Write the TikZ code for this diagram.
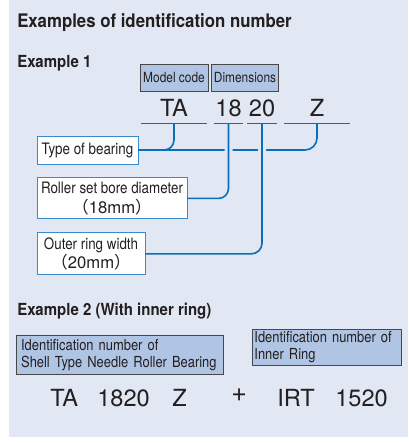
\documentclass[tikz,border=0pt]{standalone}
\usepackage{fontspec}
\setmainfont{TeX Gyre Heros}
\newfontfamily\headfont[FakeStretch=0.9]{TeX Gyre Heros}
\newfontfamily\condfont[FakeStretch=0.85]{TeX Gyre Heros}
\newfontfamily\cjkparen{Noto Sans CJK JP}
\newcommand{\sizetext}[1]{{\rmfamily\fontsize{12.5}{14.8}\selectfont{\cjkparen （}#1{\cjkparen ）}}}
\usetikzlibrary{positioning}
\usepackage{xcolor}
\definecolor{panel}{HTML}{E1E8F4}
\definecolor{linkblue}{HTML}{0B6EB9}
\definecolor{tagfill}{HTML}{B0C4E3}
\definecolor{tagdraw}{HTML}{474747}
\definecolor{boxdraw}{HTML}{3A8ACB}
\definecolor{ink}{HTML}{231F20}
\tikzstyle{heading} = [anchor=base west, inner sep=0pt, text=ink, font=\headfont\bfseries\fontsize{14}{16}\selectfont]
\tikzstyle{subheading} = [anchor=base west, inner sep=0pt, text=ink, font=\headfont\bfseries\fontsize{12.5}{15}\selectfont]
\tikzstyle{code} = [inner sep=0pt, text=ink, font=\fontsize{17.7}{20}\selectfont]
\tikzstyle{bar} = [rectangle, fill=linkblue, inner sep=0pt, minimum height=1.2pt]
\tikzstyle{tag} = [rectangle, draw=tagdraw, fill=tagfill, line width=0.7pt, inner sep=1.5pt, text=ink, font=\condfont\fontsize{10.5}{12.75}\selectfont]
\tikzstyle{label} = [rectangle, draw=boxdraw, fill=white, line width=0.7pt, inner sep=1pt, align=center, text=ink, font=\condfont\fontsize{11.8}{14.8}\selectfont]
\tikzstyle{link} = [draw=linkblue, line width=1.2pt]

\begin{document}
\begin{tikzpicture}[x=0.75pt, y=-0.75pt]
  \useasboundingbox (0,0) rectangle (408,443);
  \fill[panel] (9,0) rectangle (408,437);

  % Headings
  \node[heading] (title) at (17,27.3) {Examples of identification number};
  \node[subheading] (ex1) at (17,67.7) {Example 1};
  \node[subheading] (ex2) at (17,315.7) {Example 2 (With inner ring)};

  % Example 1
  \node[tag, minimum width=51pt, minimum height=20.25pt] (model) at (174,77.5) {Model code};
  \node[tag, minimum width=48pt, minimum height=20.25pt] (dims) at (245,77.5) {Dimensions};

  \node[bar, minimum width=49.5pt] (ta-bar) at (174,123.5) {};
  \node[bar, minimum width=21.75pt] (d18-bar) at (228.5,123.5) {};
  \node[bar, minimum width=22.5pt] (d20-bar) at (262,123.5) {};
  \node[bar, minimum width=49.5pt] (z-bar) at (317,123.5) {};
  \node[code, above=4.3pt of ta-bar] (ta) {TA};
  \node[code, above=4.3pt of d18-bar] (d18) {18};
  \node[code, above=4.3pt of d20-bar] (d20) {20};
  \node[code, above=4.3pt of z-bar] (z) {Z};

  \node[label, minimum width=75.75pt, minimum height=21pt] (type) at (87.5,150) {Type of bearing};
  \node[label, minimum width=112.5pt, minimum height=30.75pt, below=9.75pt of type.south west, anchor=north west] (roller)
    {Roller set bore diameter\\\sizetext{18mm}};
  \node[label, minimum width=81pt, minimum height=31.5pt, below=9.75pt of roller.south west, anchor=north west] (outer)
    {Outer ring width\\\sizetext{20mm}};

  % Links
  \draw[link, rounded corners=9pt] (z-bar.center) |- (type.east);
  \draw[link, rounded corners=7.5pt] (ta-bar.center) |- (type.east);
  \draw[link, rounded corners=7.5pt, preaction={draw=panel, line width=6pt, shorten <=2pt, shorten >=1pt}] (d18-bar.center) |- (roller.east);
  \draw[link, rounded corners=8pt, preaction={draw=panel, line width=6pt, shorten <=2pt, shorten >=1pt}] (d20-bar.center) |- (outer.east);

  % Example 2
  \node[tag, anchor=north west, text width=148pt, inner xsep=3.5pt, minimum height=29.25pt, align=left, font=\condfont\fontsize{11.4}{12.75}\selectfont] (shell) at (16,335)
    {Identification number of\\Shell Type Needle Roller Bearing};
  \node[tag, anchor=north west, text width=108.75pt, inner xsep=1.5pt, minimum height=27pt, align=left, font=\condfont\fontsize{11.4}{12.75}\selectfont] (inner) at (252,329)
    {Identification number of\\Inner Ring};

  \node[code, anchor=base west] (ta2) at (50,406) {TA};
  \node[code, anchor=base west] (n1820) at (97,406) {1820};
  \node[code, anchor=base west] (z2) at (172,406) {Z};
  \node[code, anchor=base west, font=\fontsize{20}{22}\selectfont] (plus) at (231,401) {+};
  \node[code, anchor=base west] (irt) at (277,406) {IRT};
  \node[code, anchor=base west] (n1520) at (335,406) {1520};
\end{tikzpicture}
\end{document}
